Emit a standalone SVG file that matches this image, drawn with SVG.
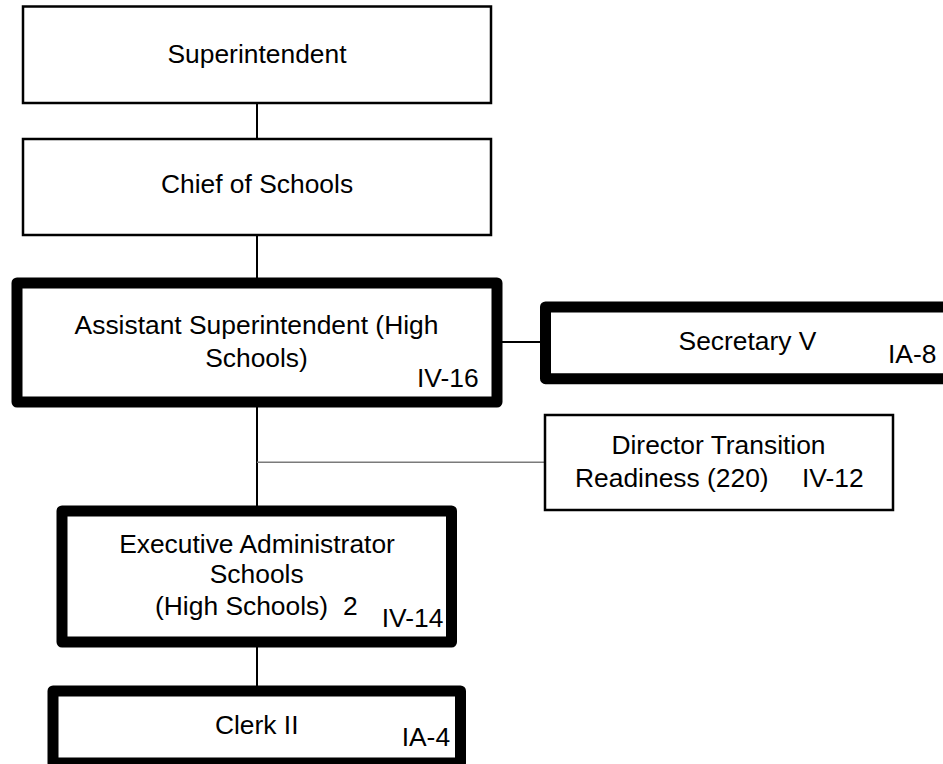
<svg xmlns="http://www.w3.org/2000/svg" width="943" height="764" viewBox="0 0 943 764">
<style>
.box{fill:#fff;stroke:#000;stroke-width:2.5}
.thick{fill:#fff;stroke:#000;stroke-width:11;stroke-linejoin:round}
.t{font-family:"Liberation Sans",Arial,sans-serif;font-size:26.4px;fill:#000}
.c{text-anchor:middle}
.ln{stroke:#000;stroke-width:2;fill:none}
.gr{stroke:#7a7a7a;stroke-width:1.6;fill:none}
</style>
<rect width="943" height="764" fill="#fff"/>
<g id="connectors">
<line class="ln" x1="257" y1="103" x2="257" y2="139"/>
<line class="ln" x1="257" y1="235" x2="257" y2="283"/>
<line class="ln" x1="497" y1="342" x2="545" y2="342"/>
<line class="ln" x1="257" y1="402" x2="257" y2="511"/>
<line class="gr" x1="257" y1="462.3" x2="545" y2="462.3"/>
<line class="ln" x1="257" y1="642" x2="257" y2="691"/>
</g>
<g id="superintendent">
<rect class="box" x="23" y="6.5" width="468" height="96.5"/>
<text class="t c" x="257" y="63.3">Superintendent</text>
</g>
<g id="chief">
<rect class="box" x="23" y="139" width="468" height="96"/>
<text class="t c" x="257" y="193.3">Chief of Schools</text>
</g>
<g id="assistant">
<rect class="thick" x="17" y="283" width="480" height="119"/>
<text class="t c" x="256.5" y="334.3">Assistant Superintendent (High</text>
<text class="t c" x="256.5" y="366.7">Schools)</text>
<text class="t" x="417" y="386.7">IV-16</text>
</g>
<g id="secretary">
<rect class="thick" x="545.5" y="307" width="405" height="71.7"/>
<text class="t c" x="747.5" y="350">Secretary V</text>
<text class="t" x="888" y="362.7">IA-8</text>
</g>
<g id="director">
<rect class="box" x="545" y="415" width="348" height="95"/>
<text class="t c" x="718.5" y="454">Director Transition</text>
<text class="t" x="575" y="486.7">Readiness (220)</text>
<text class="t" x="802" y="486.7">IV-12</text>
</g>
<g id="executive">
<rect class="thick" x="62" y="511" width="389.5" height="131"/>
<text class="t c" x="257" y="553.3">Executive Administrator</text>
<text class="t c" x="256.7" y="583.3">Schools</text>
<text class="t" x="155" y="615">(High Schools)</text>
<text class="t" x="343" y="615">2</text>
<text class="t" x="381.7" y="626.7">IV-14</text>
</g>
<g id="clerk">
<rect class="thick" x="53" y="691" width="407.5" height="72"/>
<text class="t c" x="256.7" y="734.3">Clerk II</text>
<text class="t" x="401.7" y="746">IA-4</text>
</g>
</svg>
